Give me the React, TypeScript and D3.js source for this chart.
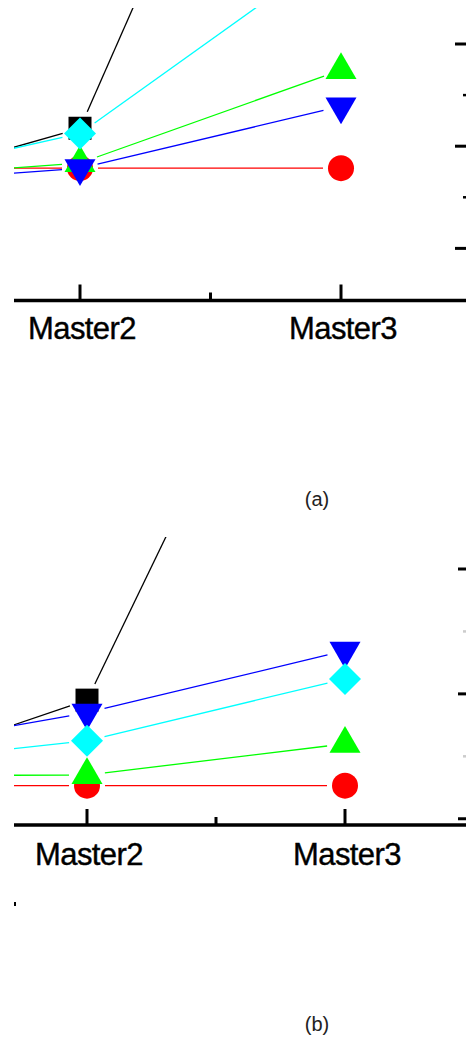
import React, { useEffect, useRef } from 'react';
import * as d3 from 'd3';

// categories on the x axis (Master1 sits left of the crop)
const categories = ['Master1', 'Master2', 'Master3'];
const shownLabels = ['Master2', 'Master3'];

// series order = draw order
const seriesNames = ['black', 'red', 'green', 'blue', 'cyan'];
const seriesColors = ['#000000', '#ff0000', '#00ff00', '#0000ff', '#00ffff'];
const seriesShapes = ['square', 'circle', 'triangle', 'triangleDown', 'diamond'];

// panel (a) values
const aBlack = [2.88, 4.35, 15.96];
const aRed = [3.57, 3.57, 3.57];
const aGreen = [3.29, 3.67, 5.49];
const aBlue = [3.18, 3.57, 4.78];
const aCyan = [3.1, 4.25, 7.9];

// panel (b) values
const bBlack = [2.5, 3.9, 12.45];
const bRed = [2.53, 2.53, 2.53];
const bGreen = [2.69, 2.7, 3.2];
const bBlue = [2.96, 3.7, 4.69];
const bCyan = [2.8, 3.25, 4.24];

// right axis ticks (labels are outside the crop)
const majorTicks = [2, 4, 6];
const minorTicks = [3, 5];

const panelLabels = ['(a)', '(b)'];

const W = 466;
const H = 1037;

function drawPanel(svg, opts) {
  const { series, xRange, yDomain, yRange, clipTop, id, label, labelY, textY, minorColor, majorX } = opts;
  const x = d3.scalePoint().domain(categories).range(xRange);
  const y = d3.scaleLinear().domain(yDomain).range(yRange);
  const axisY = yRange[0];

  const defs = svg.append('defs');
  defs.append('clipPath').attr('id', id)
    .append('rect').attr('x', 14).attr('y', clipTop).attr('width', W - 14).attr('height', axisY - clipTop);

  const g = svg.append('g');

  // x axis line + ticks
  g.append('line').attr('x1', 14).attr('x2', W).attr('y1', axisY).attr('y2', axisY)
    .attr('stroke', '#000').attr('stroke-width', 3.5);
  shownLabels.forEach(c => {
    g.append('line').attr('x1', x(c)).attr('x2', x(c)).attr('y1', axisY).attr('y2', axisY - 16)
      .attr('stroke', '#000').attr('stroke-width', 3);
  });
  const mid = (x('Master2') + x('Master3')) / 2;
  g.append('line').attr('x1', mid).attr('x2', mid).attr('y1', axisY).attr('y2', axisY - 8)
    .attr('stroke', '#000').attr('stroke-width', 3);

  // right axis ticks
  majorTicks.forEach(t => {
    g.append('line').attr('x1', majorX).attr('x2', W).attr('y1', y(t)).attr('y2', y(t))
      .attr('stroke', '#000').attr('stroke-width', 3);
  });
  minorTicks.forEach(t => {
    g.append('line').attr('x1', W - 3).attr('x2', W).attr('y1', y(t)).attr('y2', y(t))
      .attr('stroke', minorColor).attr('stroke-width', 2.5);
  });

  // labels
  shownLabels.forEach(c => {
    g.append('text').attr('x', x(c) + 2).attr('y', textY).attr('text-anchor', 'middle')
      .attr('font-family', 'Liberation Sans, Arial, sans-serif').attr('font-size', 31)
      .attr('letter-spacing', -0.6).attr('fill', '#000')
      .attr('stroke', '#000').attr('stroke-width', 0.4).text(c);
  });
  g.append('text').attr('x', 317).attr('y', labelY).attr('text-anchor', 'middle')
    .attr('font-family', 'Liberation Sans, Arial, sans-serif').attr('font-size', 20)
    .attr('fill', '#222').text(label);

  const plot = g.append('g').attr('clip-path', `url(#${id})`);
  const gap = 18;

  // lines, broken around symbols
  series.forEach((vals, si) => {
    for (let i = 0; i < vals.length - 1; i++) {
      const x1 = x(categories[i]), y1 = y(vals[i]);
      const x2 = x(categories[i + 1]), y2 = y(vals[i + 1]);
      const len = Math.hypot(x2 - x1, y2 - y1);
      const ux = (x2 - x1) / len, uy = (y2 - y1) / len;
      plot.append('line')
        .attr('x1', x1 + ux * gap).attr('y1', y1 + uy * gap)
        .attr('x2', x2 - ux * gap).attr('y2', y2 - uy * gap)
        .attr('stroke', seriesColors[si]).attr('stroke-width', 1.3);
    }
  });

  // symbols
  const sym = (shape) => {
    if (shape === 'square') return d3.symbol(d3.symbolSquare, 529)();
    if (shape === 'circle') return d3.symbol(d3.symbolCircle, 531)();
    if (shape === 'diamond') return d3.symbol(d3.symbolSquare, 512)();
    return d3.symbol(d3.symbolTriangle, 416)();
  };
  const rot = (shape) => shape === 'diamond' ? 45 : shape === 'triangleDown' ? 180 : 0;
  series.forEach((vals, si) => {
    const shape = seriesShapes[si];
    vals.forEach((v, i) => {
      plot.append('path').attr('d', sym(shape))
        .attr('transform', `translate(${x(categories[i])},${y(v)}) rotate(${rot(shape)})`)
        .attr('fill', seriesColors[si]);
    });
  });
}

export default function App() {
  const ref = useRef(null);

  useEffect(() => {
    const svg = d3.select(ref.current);
    svg.selectAll('*').remove();

    drawPanel(svg, {
      id: 'clipA',
      series: [aBlack, aRed, aGreen, aBlue, aCyan],
      xRange: [-181, 341],
      yDomain: [0.98, 6],
      yRange: [300.5, 44],
      clipTop: 8,
      label: panelLabels[0],
      labelY: 506,
      textY: 339,
      minorColor: '#000',
      majorX: 455,
    });

    drawPanel(svg, {
      id: 'clipB',
      series: [bBlack, bRed, bGreen, bBlue, bCyan],
      xRange: [-171, 345],
      yDomain: [1.9, 6],
      yRange: [825, 569],
      clipTop: 537,
      label: panelLabels[1],
      labelY: 1031,
      textY: 865,
      minorColor: '#ccc',
      majorX: 458,
    });

    // stray mark at the left edge of panel (b)
    svg.append('rect').attr('x', 14).attr('y', 902).attr('width', 2).attr('height', 4).attr('fill', '#000');
  }, []);

  return (
    <div style={{ position: 'absolute', left: 0, top: 0 }}>
      <svg ref={ref} width={W} height={H} style={{ display: 'block', background: '#fff' }} />
    </div>
  );
}
